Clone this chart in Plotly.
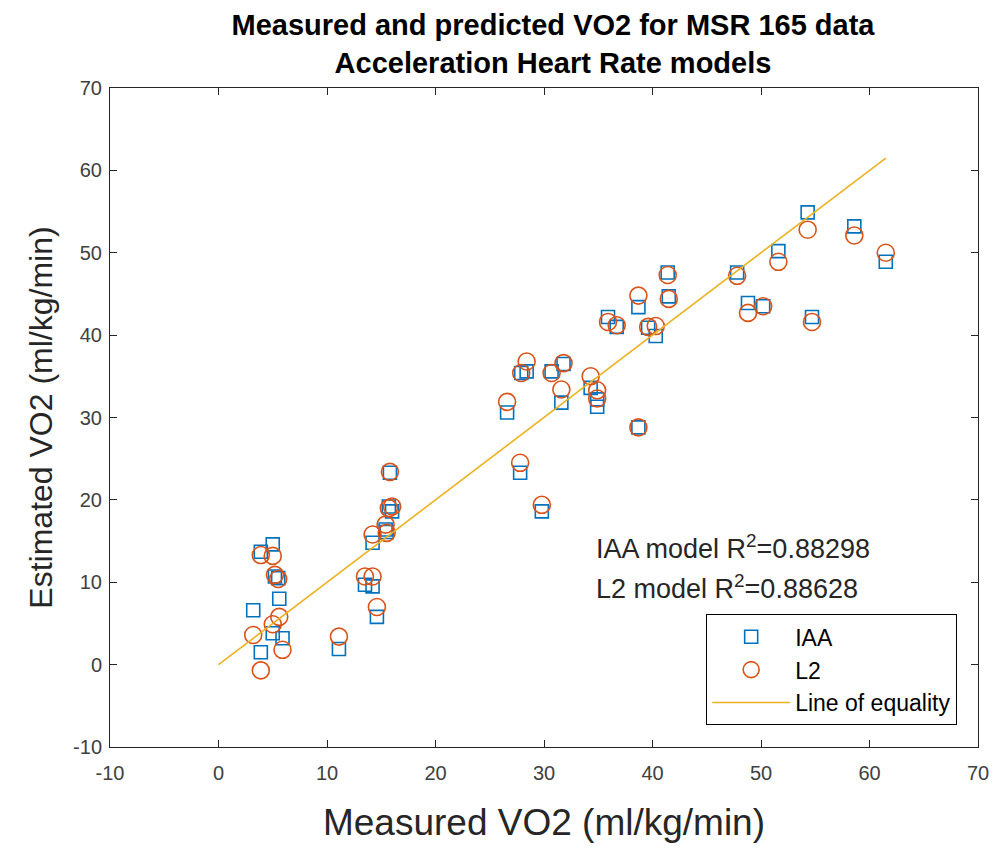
import plotly.graph_objects as go

# measured VO2 and the two model estimates (ml/kg/min)
measured = [3.2, 3.9, 5.0, 5.2, 5.5, 5.6, 5.0, 5.9, 3.9, 11.1,
            14.2, 13.5, 14.2, 14.6, 15.4, 15.5, 15.7, 16.0, 15.8,
            26.6, 27.9, 28.4, 30.7, 31.8, 31.6, 34.3, 34.9, 34.9, 38.7,
            27.8, 29.8, 35.9, 36.7, 38.7, 39.6, 40.3, 41.4, 41.5,
            47.8, 48.8, 50.2, 51.6, 54.3, 54.7, 58.6, 61.5]
iaa = [6.6, 13.7, 14.6, 10.7, 10.5, 8.0, 3.8, 3.2, 1.5, 1.9,
       14.8, 9.7, 9.5, 5.8, 16.4, 16.1, 19.2, 18.6, 23.3,
       30.6, 35.4, 35.6, 35.6, 36.5, 31.8, 33.6, 32.2, 31.3, 28.8,
       23.3, 18.6, 42.2, 41.0, 43.4, 40.9, 39.9, 47.6, 44.7,
       47.6, 43.9, 43.5, 50.2, 54.9, 42.2, 53.2, 48.9]
l2 = [3.6, 13.3, 13.2, 10.9, 10.4, 5.8, 4.9, 1.8, -0.7, 3.4,
      15.8, 10.7, 10.7, 7.0, 17.0, 16.0, 19.0, 19.2, 23.4,
      31.9, 35.4, 36.8, 35.4, 36.6, 33.4, 35.0, 33.3, 32.3, 28.8,
      24.5, 19.4, 41.6, 41.2, 44.8, 41.0, 41.1, 47.3, 44.4,
      47.2, 42.7, 43.5, 48.9, 52.8, 41.6, 52.1, 50.0]
r2_iaa = 0.88298
r2_l2 = 0.88628
ticks = [-10, 0, 10, 20, 30, 40, 50, 60, 70]

axis_col = "#262626"
font = "Liberation Sans, Arial, Helvetica, sans-serif"

fig = go.Figure()
fig.add_trace(go.Scatter(
    x=measured, y=iaa, mode="markers", name="IAA",
    marker=dict(symbol="square-open", size=13, color="#0072BD", line=dict(width=1.6))
))
fig.add_trace(go.Scatter(
    x=measured, y=l2, mode="markers", name="L2",
    marker=dict(symbol="circle-open", size=17, color="#D95319", line=dict(width=1.6))
))
fig.add_trace(go.Scatter(
    x=[0, max(measured)], y=[0, max(measured)], mode="lines", name="Line of equality",
    line=dict(color="#EDB120", width=1.6)
))

fig.add_annotation(x=34.6, y=14.3, xref="x", yref="y", xanchor="left", showarrow=False,
                   text="IAA model R<sup>2</sup>=%.5f" % r2_iaa,
                   font=dict(size=27, color=axis_col, family=font))
fig.add_annotation(x=34.6, y=9.4, xref="x", yref="y", xanchor="left", showarrow=False,
                   text="L2 model R<sup>2</sup>=%.5f" % r2_l2,
                   font=dict(size=27, color=axis_col, family=font))

axis_common = dict(
    showline=True, linecolor=axis_col, linewidth=1, mirror="ticks",
    ticks="inside", ticklen=7, tickcolor=axis_col, showgrid=False, zeroline=False,
    tickvals=ticks, ticktext=[str(t) for t in ticks],
    tickfont=dict(size=20, color="#404040", family=font),
)

fig.update_layout(
    width=1000, height=848,
    paper_bgcolor="white", plot_bgcolor="white",
    font=dict(family=font, color=axis_col),
    margin=dict(l=102, r=30, t=80, b=109),
    title=dict(
        text="<b>Measured and predicted VO2 for MSR 165 data</b><br><b>Acceleration Heart Rate models</b>",
        x=0.545, xanchor="center", y=0.968, yanchor="top",
        font=dict(size=29, color="black", family=font)
    ),
    xaxis=dict(range=[-10, 70], ticklabelstandoff=8,
               title=dict(text="Measured VO2 (ml/kg/min)", standoff=26,
                          font=dict(size=37, color=axis_col)), **axis_common),
    yaxis=dict(range=[-10, 70], ticklabelstandoff=3,
               title=dict(text="Estimated VO2 (ml/kg/min)", standoff=10,
                          font=dict(size=32, color=axis_col)), **axis_common),
    legend=dict(
        x=0.976, y=0.033, xanchor="right", yanchor="bottom",
        bgcolor="white", bordercolor="black", borderwidth=1,
        font=dict(size=23, color="black", family=font),
        itemwidth=78,
    ),
)

fig.write_html("out.html")
